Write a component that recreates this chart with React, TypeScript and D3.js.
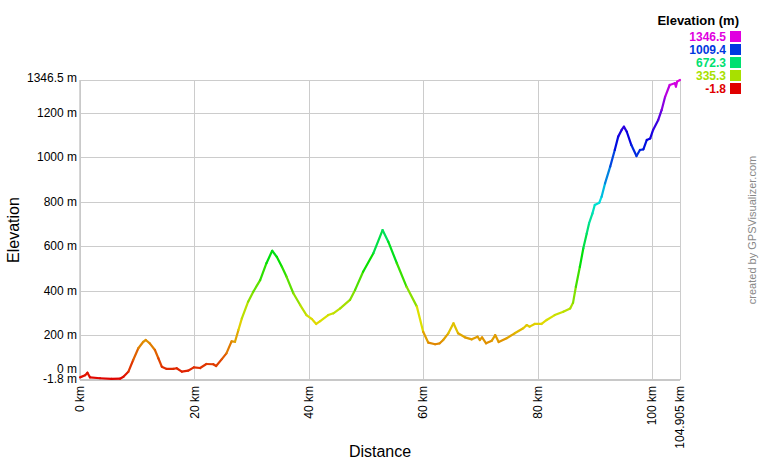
import React from "react";
import * as d3 from "d3";

const distKm = [0, 0.9, 1.3, 1.75, 3.5, 5.5, 7, 7.6, 8.45, 9.3, 10.2, 11.07, 11.5, 12.2, 13.1, 13.7, 14.3, 15.15, 16.3, 16.9, 17.8, 18.9, 19.9, 21, 22.1, 23.3, 23.8, 24.8, 25.6, 26.5, 27.1, 27.7, 28.3, 29.4, 30.3, 31.5, 32.6, 33.6, 34.4, 35.3, 36.1, 37.3, 38.5, 39.6, 40.5, 41.3, 42, 43.4, 44.3, 45.5, 47.2, 48.1, 49.5, 51.3, 52.9, 53.9, 55.4, 57.1, 58.9, 60, 60.9, 62.1, 62.9, 63.5, 64.4, 65.3, 66.1, 67.3, 68.5, 69.5, 69.9, 70.3, 71, 72, 72.6, 73.2, 74.6, 76, 77.5, 78.1, 78.6, 79.5, 80.7, 81.6, 83, 84.5, 85.7, 86.2, 86.7, 87.4, 88, 88.6, 89.0, 89.6, 90, 90.8, 91.2, 91.8, 92.7, 93.5, 94.1, 94.7, 95.1, 95.6, 96.4, 97.3, 97.9, 98.5, 99.1, 99.7, 100.2, 101.1, 101.7, 102.3, 103.1, 104, 104.2, 104.4, 104.905];
const elevM = [10, 20, 31, 10, 6, 3, 4, 13, 35, 88, 141, 170, 178, 163, 133, 96, 58, 48, 48, 51, 36, 40, 55, 52, 70, 69, 61, 92, 118, 172, 170, 223, 275, 350, 395, 447, 523, 579, 552, 507, 463, 388, 335, 290, 273, 250, 263, 290, 298, 320, 358, 403, 485, 568, 672, 620, 523, 417, 328, 215, 166, 159, 163, 178, 208, 253, 208, 190, 181, 193, 178, 190, 163, 175, 200, 169, 186, 208, 231, 245, 238, 250, 250, 268, 290, 305, 320, 345, 417, 507, 590, 657, 702, 747, 785, 795, 822, 882, 957, 1032, 1092, 1122, 1137, 1114, 1054, 1005, 1032, 1035, 1077, 1084, 1122, 1167, 1212, 1271, 1324, 1332, 1317, 1339, 1346.5];

const xTicks = [0, 20, 40, 60, 80, 100, 104.905];
const xTickLabels = ["0 km", "20 km", "40 km", "60 km", "80 km", "100 km", "104.905 km"];
const yTicks = [-1.8, 0, 200, 400, 600, 800, 1000, 1200, 1346.5];
const yTickLabels = ["-1.8 m", "0 m", "200 m", "400 m", "600 m", "800 m", "1000 m", "1200 m", "1346.5 m"];
const legendValues = [1346.5, 1009.4, 672.3, 335.3, -1.8];

const minE = -1.8;
const maxE = 1346.5;

export default function App() {
  const left = 80, right = 680, top = 80, bottom = 380;
  const x = d3.scaleLinear().domain([0, 104.905]).range([left, right]);
  const y = d3.scaleLinear().domain([minE, maxE]).range([bottom, top]);
  const hue = d3.scaleLinear().domain([minE, maxE]).range([0, 300]);
  const color = (e: number) => d3.hsl(hue(e), 1, 0.44).formatHex();
  const font = "'Liberation Sans', Arial, sans-serif";

  const segs = distKm.slice(1).map((d, i) => ({
    x1: x(distKm[i]), y1: y(elevM[i]), x2: x(d), y2: y(elevM[i + 1]),
    c: color((elevM[i] + elevM[i + 1]) / 2),
  }));

  const yLabelOffset = (v: number) => (v === 0 ? -11 : v === minE ? -1.5 : v === maxE ? -2 : 0);

  return (
    <svg width={760} height={460} style={{ position: "absolute", left: 0, top: 0, background: "#fff" }} fontFamily={font}>
      <rect width={760} height={460} fill="#fff" />
      {yTicks.map((v) => (
        <line key={"gy" + v} x1={left} x2={right} y1={Math.round(y(v)) + 0.5} y2={Math.round(y(v)) + 0.5} stroke="#cccccc" strokeWidth={1} />
      ))}
      {xTicks.map((v) => (
        <line key={"gx" + v} y1={top} y2={bottom} x1={Math.round(x(v)) + 0.5} x2={Math.round(x(v)) + 0.5} stroke="#cccccc" strokeWidth={1} />
      ))}
      <line x1={left} x2={right} y1={bottom} y2={bottom} stroke="#c8c8c8" strokeWidth={2} />
      <line x1={left} x2={left} y1={top} y2={bottom} stroke="#c8c8c8" strokeWidth={1.5} />
      {segs.map((s, i) => (
        <line key={"s" + i} x1={s.x1} y1={s.y1} x2={s.x2} y2={s.y2} stroke={s.c} strokeWidth={2.2} strokeLinecap="round" />
      ))}
      {yTicks.map((v, i) => (
        <text key={"ty" + v} x={left - 3} y={y(v) + yLabelOffset(v)} dy="0.35em" textAnchor="end" fontSize={12} fill="#000">
          {yTickLabels[i]}
        </text>
      ))}
      {xTicks.map((v, i) => (
        <text key={"tx" + v} transform={`translate(${x(v)},${bottom + 6}) rotate(-90)`} dy="0.35em" textAnchor="end" fontSize={12} fill="#000">
          {xTickLabels[i]}
        </text>
      ))}
      <text x={380} y={457} textAnchor="middle" fontSize={16} fill="#000">Distance</text>
      <text transform={`translate(19,${(top + bottom) / 2}) rotate(-90)`} textAnchor="middle" fontSize={16} fill="#000">Elevation</text>
      <text x={739} y={25} textAnchor="end" fontSize={13} fontWeight="bold" fill="#000">Elevation (m)</text>
      {legendValues.map((v, i) => (
        <g key={"lg" + v}>
          <text x={726} y={37 + i * 13} dy="0.35em" textAnchor="end" fontSize={12} fontWeight="bold" fill={color(v)}>
            {v.toFixed(1)}
          </text>
          <rect x={730} y={31 + i * 13} width={11} height={11} fill={color(v)} />
        </g>
      ))}
      <text transform={`translate(756,230) rotate(-90)`} textAnchor="middle" fontSize={11} fill="#888">created by GPSVisualizer.com</text>
    </svg>
  );
}
